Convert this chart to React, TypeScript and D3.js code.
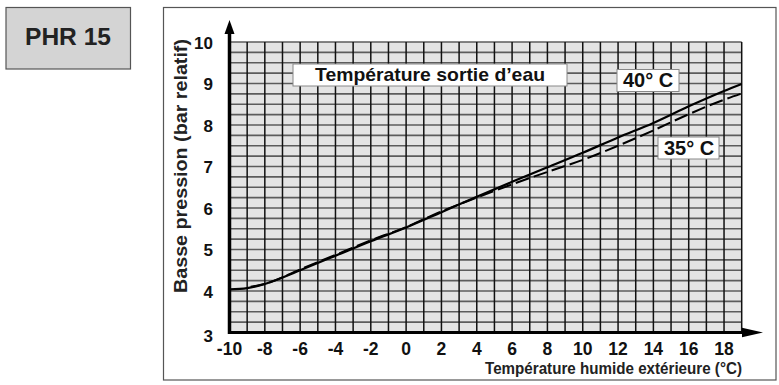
import React from "react";
import * as d3 from "d3";

const xTicks = [-10, -8, -6, -4, -2, 0, 2, 4, 6, 8, 10, 12, 14, 16, 18];
const yTicks = [3, 4, 5, 6, 7, 8, 9, 10];

const solidT = [-10, -9, -8, -6, -4, -2, 0, 2, 4, 6, 8, 10, 12, 14, 16, 18, 19];
const solidP = [4.04, 4.07, 4.17, 4.5, 4.85, 5.2, 5.53, 5.9, 6.27, 6.63, 6.98, 7.33, 7.7, 8.05, 8.45, 8.82, 8.99];

const dashT = [-8.8, -8, -6, -4, -2, 0, 2, 4, 6, 8, 10, 12, 14, 16, 18, 19];
const dashP = [4.1, 4.17, 4.52, 4.87, 5.22, 5.54, 5.92, 6.25, 6.57, 6.87, 7.16, 7.5, 7.87, 8.26, 8.61, 8.76];

const title = "PHR 15";
const legendTitle = "Température sortie d’eau";
const label40 = "40° C";
const label35 = "35° C";
const xTitle = "Température humide extérieure  (°C)";
const yTitle = "Basse pression  (bar relatif)";

const FONT = "'Liberation Sans', Arial, Helvetica, sans-serif";

export default function App() {
  const x = d3.scaleLinear().domain([-10, 19]).range([229.5, 741.7]);
  const y = d3.scaleLinear().domain([3, 10]).range([332.5, 42]);

  const vLines = d3.range(-10, 20, 1);
  const hLines = d3.range(3, 10.001, 0.25);

  const line = d3
    .line<[number, number]>()
    .x((d) => x(d[0]))
    .y((d) => y(d[1]))
    .curve(d3.curveMonotoneX);

  const solid = solidT.map((t, i) => [t, solidP[i]] as [number, number]);
  const dashed = dashT.map((t, i) => [t, dashP[i]] as [number, number]);

  const x0 = x(-10);
  const x1 = x(19);
  const y0 = y(3);
  const y1 = y(10);

  return (
    <svg
      width={779}
      height={385}
      style={{ position: "absolute", left: 0, top: 0, display: "block", background: "#fff" }}
      fontFamily={FONT}
    >
      {/* outer frame */}
      <rect x={163.5} y={7.5} width={612.5} height={372.5} fill="#fff" stroke="#555" strokeWidth={1.2} />
      {/* PHR box */}
      <rect x={6} y={7.5} width={124.5} height={61.5} fill="#d4d4d4" stroke="#555" strokeWidth={1.2} />
      <text x={25} y={44.5} fontSize={23.5} fontWeight="bold" fill="#222" textLength={86} lengthAdjust="spacingAndGlyphs">
        {title}
      </text>

      {/* grid background */}
      <rect x={x0} y={y1} width={x1 - x0} height={y0 - y1} fill="#e4e4e4" />
      {hLines.map((v, i) => (
        <line key={"h" + i} x1={x0} x2={x1} y1={y(v)} y2={y(v)} stroke="#5c5c5c" strokeWidth={1.6} />
      ))}
      {vLines.map((v, i) => (
        <line key={"v" + i} x1={x(v)} x2={x(v)} y1={y1} y2={y0} stroke="#111" strokeWidth={1.5} />
      ))}

      {/* data lines */}
      <path d={line(solid) || ""} fill="none" stroke="#000" strokeWidth={2.2} />
      <path d={line(dashed) || ""} fill="none" stroke="#000" strokeWidth={2} strokeDasharray="14 5" />

      {/* legend boxes */}
      <rect x={293} y={64} width={274} height={22} fill="#fff" stroke="#888" strokeWidth={1} />
      <text x={315} y={80.5} fontSize={19} fontWeight="bold" fill="#111" textLength={230} lengthAdjust="spacingAndGlyphs">
        {legendTitle}
      </text>
      <rect x={617} y={69.5} width={62} height={22} fill="#fff" stroke="#888" strokeWidth={1} />
      <text x={623} y={87} fontSize={20} fontWeight="bold" fill="#111">
        {label40}
      </text>
      <rect x={658} y={137} width={61} height={22} fill="#fff" stroke="#888" strokeWidth={1} />
      <text x={664} y={154.5} fontSize={20} fontWeight="bold" fill="#111">
        {label35}
      </text>

      {/* axes */}
      <line x1={x0} x2={x0} y1={y0 + 1.5} y2={32} stroke="#000" strokeWidth={3.5} />
      <polygon points={`${x0},20 ${x0 - 5},34 ${x0 + 5},34`} fill="#000" />
      <line x1={x0 - 1.5} x2={744} y1={y0} y2={y0} stroke="#000" strokeWidth={3.2} />
      <polygon points={`${763},${y0} ${742},${y0 - 4.8} ${742},${y0 + 4.8}`} fill="#000" />

      {/* tick labels */}
      {yTicks.map((v) => (
        <text key={"yt" + v} x={213} y={y(v) + 6.5 + (v === 3 ? 3 : 0)} textAnchor="end" fontSize={17} fontWeight="bold" fill="#111">
          {v}
        </text>
      ))}
      {xTicks.map((v) => (
        <text key={"xt" + v} x={x(v)} y={354.5} textAnchor="middle" fontSize={17.5} fontWeight="bold" fill="#111">
          {v}
        </text>
      ))}

      {/* axis titles */}
      <text x={485} y={373.5} fontSize={16.5} fontWeight="bold" fill="#222" textLength={257} lengthAdjust="spacingAndGlyphs">
        {xTitle}
      </text>
      <text
        transform={`translate(187, 166) rotate(-90)`}
        textAnchor="middle"
        fontSize={19}
        fontWeight="bold"
        fill="#222"
        textLength={254}
        lengthAdjust="spacingAndGlyphs"
      >
        {yTitle}
      </text>
    </svg>
  );
}
